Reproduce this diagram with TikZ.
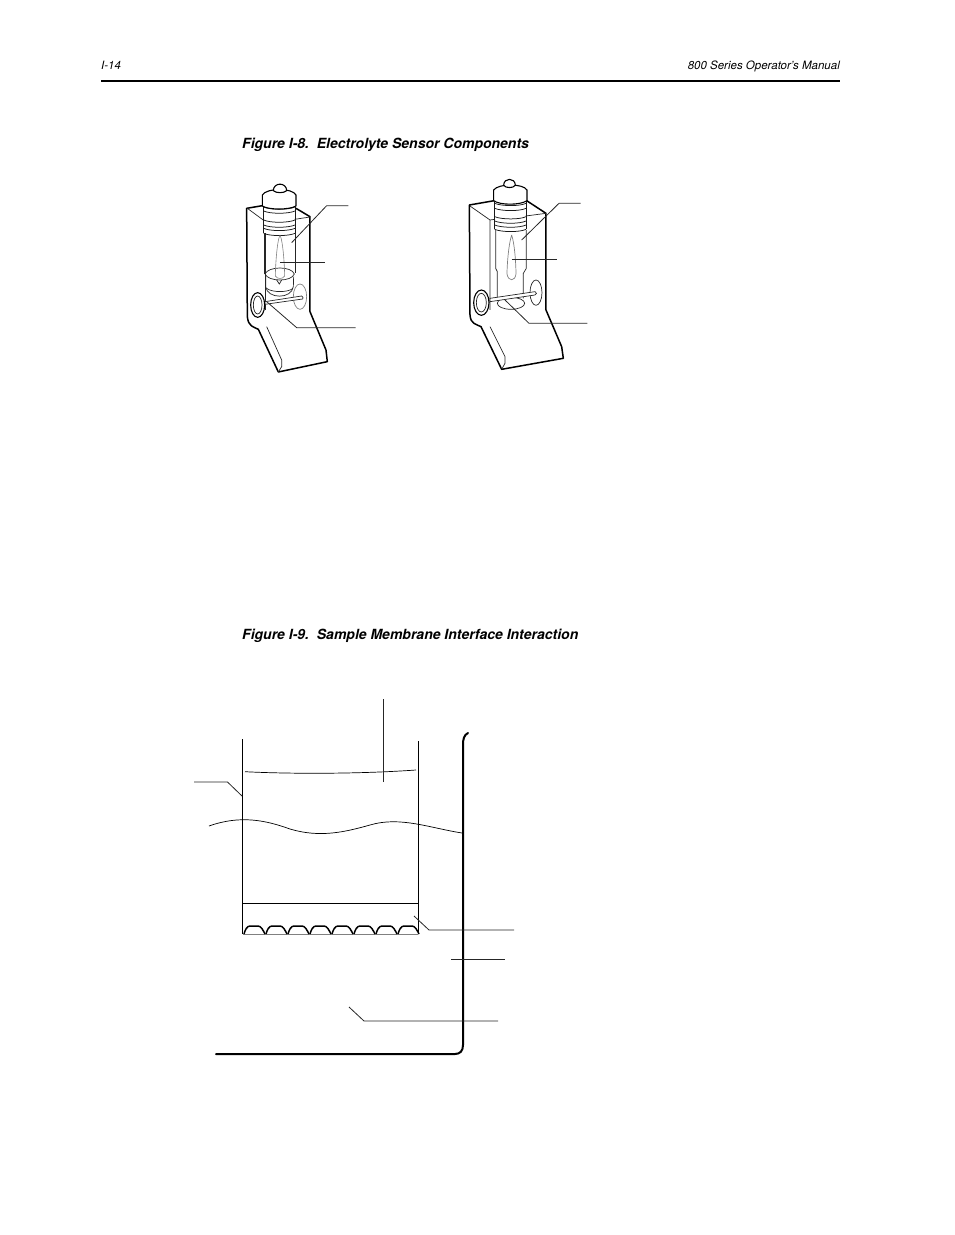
\documentclass[tikz,border=0pt]{standalone}
\usepackage{fontspec}
\setmainfont{TeX Gyre Heros}
\begin{document}
\begin{tikzpicture}
	[x=1pt,y=-1pt,
	heavy/.style={line width=1.5pt,line join=round},
	capline/.style={line width=1.1pt,line join=round},
	ribline/.style={line width=0.75pt,black!90},
	part/.style={line width=0.7pt,black!85},
	faint/.style={line width=0.6pt,black!50},
	leader/.style={line width=0.8pt,black!85},
	headtext/.style={font=\itshape\fontsize{11.5}{12}\selectfont,inner sep=0pt},
	captiontext/.style={font=\bfseries\itshape\fontsize{14}{15}\selectfont,inner sep=0pt}]
	\useasboundingbox (0,0) rectangle (954,1235);
	% page head
	\node[headtext,anchor=base west,name=pagenum] at (101,69) {I-14};
	\node[headtext,anchor=base east,name=manual] at (840,69) {800 Series Operator’s Manual};
	\draw[line width=1.5pt] (101,81) -- (840,81);
	\node[captiontext,anchor=base west,name=captioneight] at (242,148) {Figure I-8.\ \ Electrolyte Sensor Components};
	\node[captiontext,anchor=base west,name=captionnine] at (242,639) {Figure I-9.\ \ Sample Membrane Interface Interaction};
	% left sensor
	\begin{scope}[shift={(230,170)},x=0.3333pt,y=-0.3333pt]
		\draw[heavy] (198,115) -- (240,140) -- (240,425) -- (288,540) -- (292,575) -- (145,606) -- (85,478)
			.. controls (70,470) and (55,470) .. (52,440) -- (50,115) -- (97,107);
		\draw[part] (52,115) -- (101,151);
		\draw[part] (105,190) -- (105,420);
		\draw[part] (194,148) -- (240,141);
		\draw[part] (110,470) -- (155,570) -- (155,590) -- (145,606);
		% neck and ribs
		\draw[ribline] (101,112) -- (101,190);
		\draw[ribline] (195,112) -- (195,190);
		\foreach \ribY in {111,123,150,165,175,190}
			\draw[ribline] (101,\ribY) .. controls (120,\ribY+9) and (175,\ribY+9) .. (195,\ribY);
		% cap
		\draw[capline,fill=white] (97,75) .. controls (110,53) and (187,53) .. (198,75) -- (198,108)
			.. controls (178,120) and (115,120) .. (97,108) -- cycle;
		\draw[capline,fill=white] (130,62) .. controls (130,36) and (170,36) .. (170,62)
			.. controls (162,70) and (138,70) .. (130,62) -- cycle;
		% tube and bulb
		\draw[part] (103,190) -- (103,312);
		\draw[part] (195,190) -- (195,308);
		\draw[part] (105,312) .. controls (115,288) and (185,288) .. (193,312)
			.. controls (185,336) and (115,336) .. (105,312);
		\draw[part] (107,320) -- (107,350) .. controls (112,388) and (185,388) .. (190,350) -- (191,320);
		\draw[part] (110,355) .. controls (125,368) and (175,368) .. (189,355);
		\draw[faint] (150,195) .. controls (140,215) and (136,300) .. (136,318)
			.. controls (142,328) and (158,328) .. (164,318) .. controls (164,300) and (160,215) .. (150,195);
		\draw[part] (140,330) -- (148,342) -- (155,330);
		% rod and rings
		\draw[faint,line width=0.7pt] (210,380) ellipse [x radius=20,y radius=38];
		\draw[part,fill=white] (105,395) -- (215,378) .. controls (220,381) and (220,385) .. (218,387) -- (105,403) -- cycle;
		\draw[capline,fill=white] (83,405) ellipse [x radius=21,y radius=37];
		\draw[part] (83,405) ellipse [x radius=13,y radius=27];
		% leaders
		\coordinate (ltubeend) at (185,218);
		\coordinate (ltubeknee) at (290,107);
		\coordinate (ltubefree) at (355,107);
		\coordinate (ltipend) at (150,276);
		\coordinate (ltipfree) at (285,276);
		\coordinate (lrodend) at (110,395);
		\coordinate (lrodknee) at (200,473);
		\coordinate (lrodfree) at (377,473);
		\draw[leader] (ltubeend) -- (ltubeknee) -- (ltubefree);
		\draw[leader] (ltipend) -- (ltipfree);
		\draw[leader] (lrodend) -- (lrodknee) -- (lrodfree);
	\end{scope}
	% right sensor
	\begin{scope}[shift={(455,170)},x=0.3333pt,y=-0.3333pt]
		\draw[heavy] (215,92) -- (273,130) -- (273,420) -- (320,530) -- (325,565) -- (140,598) -- (78,470)
			.. controls (62,462) and (47,462) .. (45,435) -- (43,105) -- (118,92);
		\draw[part] (45,108) -- (105,150) -- (105,420);
		\draw[part] (212,138) -- (273,130);
		\draw[part] (105,150) -- (120,148);
		\draw[part] (105,470) -- (150,560) -- (150,580) -- (140,598);
		% neck and ribs
		\draw[ribline] (119,92) -- (119,178);
		\draw[ribline] (213,92) -- (213,178);
		\foreach \ribY in {100,115,140,153,165,178}
			\draw[ribline] (119,\ribY) .. controls (140,\ribY+9) and (195,\ribY+9) .. (213,\ribY);
		% cap
		\draw[capline,fill=white] (116,60) .. controls (130,40) and (205,40) .. (216,60) -- (216,92)
			.. controls (195,106) and (135,106) .. (116,92) -- cycle;
		\draw[capline,fill=white] (146,46) .. controls (146,22) and (181,22) .. (181,46)
			.. controls (174,55) and (153,55) .. (146,46) -- cycle;
		% bore
		\draw[part] (122,180) -- (122,295) -- (127,305) -- (127,385);
		\draw[part] (214,180) -- (214,295) -- (205,310) -- (205,385);
		\draw[faint,line width=0.7pt] (170,195) .. controls (160,225) and (156,290) .. (156,312)
			.. controls (160,335) and (180,335) .. (183,312) .. controls (183,290) and (180,225) .. (170,195);
		\draw[part] (168,400) ellipse [x radius=41,y radius=18];
		% rod and rings
		\draw[part] (243,368) ellipse [x radius=18,y radius=38];
		\draw[part,fill=white] (105,385) -- (240,365) .. controls (246,367) and (246,373) .. (240,375) -- (105,395) -- cycle;
		\draw[capline,fill=white] (79,398) ellipse [x radius=23,y radius=38];
		\draw[part] (79,398) ellipse [x radius=15,y radius=28];
		% leaders
		\coordinate (rtubeend) at (200,210);
		\coordinate (rtubeknee) at (312,100);
		\coordinate (rtubefree) at (377,100);
		\coordinate (rtipend) at (170,268);
		\coordinate (rtipfree) at (305,268);
		\coordinate (rrodend) at (150,390);
		\coordinate (rrodknee) at (222,460);
		\coordinate (rrodfree) at (397,460);
		\draw[leader] (rtubeend) -- (rtubeknee) -- (rtubefree);
		\draw[leader] (rtipend) -- (rtipfree);
		\draw[leader] (rrodend) -- (rrodknee) -- (rrodfree);
	\end{scope}
	% membrane cup
	\draw[line width=0.9pt] (242.5,739) -- (242.5,934);
	\draw[line width=0.9pt] (418.3,741) -- (418.3,934);
	\draw[line width=0.9pt] (242.5,903) -- (418.3,903);
	\draw[faint,line width=0.8pt] (242.5,934) -- (418.3,934);
	\foreach \bumpX in {0,...,7}
		\draw[line width=1.5pt] ({244+\bumpX*22},934) .. controls ({245+\bumpX*22},930) and ({247+\bumpX*22},926) .. ({250+\bumpX*22},926)
			-- ({258+\bumpX*22},926) .. controls ({261+\bumpX*22},926) and ({263+\bumpX*22},930) .. ({265+\bumpX*22},934);
	% liquid levels
	\draw[line width=0.7pt] (245,771.7) .. controls (290,774) and (360,774) .. (416,770);
	\draw[line width=0.7pt] (209,826) .. controls (240,815) and (265,820) .. (290,829)
		.. controls (320,838) and (345,832) .. (370,825) .. controls (400,816) and (430,828) .. (462,833);
	% dish
	\draw[line width=2pt,line cap=round] (468,733) .. controls (464,735) and (463,739) .. (463,745) -- (463,1045)
		.. controls (463,1051) and (460,1054) .. (455,1054) -- (216,1054);
	% leaders
	\coordinate (liquidend) at (383.3,782);
	\coordinate (liquidfree) at (383.3,699);
	\coordinate (wallend) at (242,796);
	\coordinate (wallknee) at (227.5,782);
	\coordinate (wallfree) at (194,782);
	\coordinate (membend) at (414,916);
	\coordinate (membknee) at (429,930);
	\coordinate (membfree) at (514,930);
	\coordinate (dishend) at (451,959);
	\coordinate (dishfree) at (505,959);
	\coordinate (sampleend) at (349,1007);
	\coordinate (sampleknee) at (364,1021);
	\coordinate (samplefree) at (498,1021);
	\draw[leader] (liquidend) -- (liquidfree);
	\draw[leader] (wallend) -- (wallknee) -- (wallfree);
	\draw[leader] (membend) -- (membknee) -- (membfree);
	\draw[leader] (dishend) -- (dishfree);
	\draw[leader] (sampleend) -- (sampleknee) -- (samplefree);
\end{tikzpicture}
\end{document}
